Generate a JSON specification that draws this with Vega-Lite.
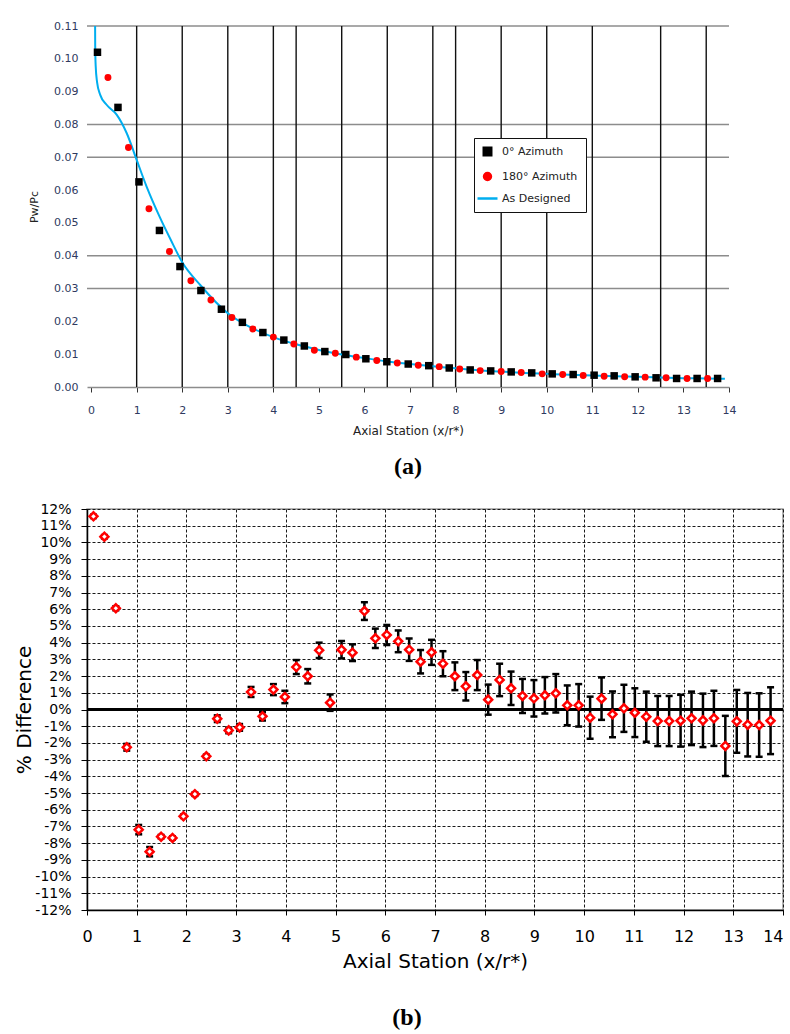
{
  "$schema": "https://vega.github.io/schema/vega-lite/v6.json",
  "padding": {"left": 14, "top": 20, "right": 0, "bottom": 0},
  "background": "white",
  "spacing": 22,
  "config": {"view": {"stroke": null}, "font": "DejaVu Sans", "axis": {"labelOverlap": false, "labelBound": false, "labelFlush": false}},
  "vconcat": [
    {
      "width": 642,
      "height": 361,
      "view": {"stroke": null},
      "title": {"text": "(a)", "orient": "bottom", "font": "Liberation Serif", "fontSize": 24, "fontWeight": "bold", "color": "black", "offset": 19, "anchor": "middle"},
      "resolve": {"scale": {"color": "shared"}},
      "layer": [
        {
          "data": {"values": [{"y": 0.03}, {"y": 0.04}, {"y": 0.07}, {"y": 0.08}, {"y": 0.11}]},
          "mark": {"type": "rule", "color": "#8c8c8c", "strokeWidth": 1.5},
          "encoding": {
            "y": {"field": "y", "type": "quantitative", "scale": {"domain": [0, 0.11], "nice": false, "zero": false},
              "axis": {"values": [0, 0.01, 0.02, 0.03, 0.04, 0.05, 0.06, 0.07, 0.08, 0.09, 0.1, 0.11], "format": ".2f", "labelOverlap": false, "grid": false, "domain": false, "ticks": false, "labelFont": "DejaVu Sans", "labelFontSize": 11, "labelColor": "#2f3a5f", "labelPadding": 9, "title": "Pw/Pc", "titleFont": "DejaVu Sans", "titleFontSize": 11, "titleFontWeight": "normal", "titleColor": "#222", "titlePadding": 14}}
          }
        },
        {
          "data": {"values": [{"x": 1}, {"x": 2}, {"x": 3}, {"x": 4}, {"x": 4.5}, {"x": 5.5}, {"x": 6.5}, {"x": 7.5}, {"x": 8}, {"x": 9}, {"x": 10}, {"x": 11}, {"x": 12.5}, {"x": 13.5}]},
          "mark": {"type": "rule", "color": "#111", "strokeWidth": 1.4},
          "encoding": {
            "x": {"field": "x", "type": "quantitative", "scale": {"domain": [-0.09, 14], "nice": false, "zero": false},
              "axis": {"values": [0, 1, 2, 3, 4, 5, 6, 7, 8, 9, 10, 11, 12, 13, 14], "labelOverlap": false, "grid": false, "domain": true, "domainColor": "#8c8c8c", "domainWidth": 1.5, "ticks": true, "tickColor": "#333", "tickSize": 5, "labelFont": "DejaVu Sans", "labelFontSize": 11, "labelColor": "#2f3a5f", "labelPadding": 12, "title": "Axial Station (x/r*)", "titleFont": "DejaVu Sans", "titleFontSize": 12, "titleFontWeight": "normal", "titleColor": "#222", "titlePadding": 10}}
          }
        },
        {
          "data": {"values": [
            {"x": 0.088, "y": 0.11, "series": "As Designed"}, {"x": 0.09, "y": 0.104, "series": "As Designed"}, {"x": 0.1, "y": 0.098, "series": "As Designed"}, {"x": 0.13, "y": 0.093, "series": "As Designed"}, {"x": 0.2, "y": 0.089, "series": "As Designed"}, {"x": 0.34, "y": 0.086, "series": "As Designed"}, {"x": 0.56, "y": 0.083, "series": "As Designed"}, {"x": 0.78, "y": 0.0774, "series": "As Designed"}, {"x": 1.0, "y": 0.0692, "series": "As Designed"}, {"x": 1.22, "y": 0.061, "series": "As Designed"}, {"x": 1.5, "y": 0.052, "series": "As Designed"}, {"x": 1.75, "y": 0.0448, "series": "As Designed"}, {"x": 2.0, "y": 0.038, "series": "As Designed"}, {"x": 2.4, "y": 0.031, "series": "As Designed"}, {"x": 3.0, "y": 0.0225, "series": "As Designed"}, {"x": 3.5, "y": 0.0182, "series": "As Designed"}, {"x": 4.0, "y": 0.0152, "series": "As Designed"}, {"x": 4.5, "y": 0.013, "series": "As Designed"}, {"x": 5.0, "y": 0.0113, "series": "As Designed"}, {"x": 5.5, "y": 0.0099, "series": "As Designed"}, {"x": 6.0, "y": 0.0088, "series": "As Designed"}, {"x": 6.5, "y": 0.0078, "series": "As Designed"}, {"x": 7.0, "y": 0.007, "series": "As Designed"}, {"x": 7.5, "y": 0.0063, "series": "As Designed"}, {"x": 8.0, "y": 0.0057, "series": "As Designed"}, {"x": 8.5, "y": 0.0051, "series": "As Designed"}, {"x": 9.0, "y": 0.0047, "series": "As Designed"}, {"x": 9.5, "y": 0.0043, "series": "As Designed"}, {"x": 10.0, "y": 0.004, "series": "As Designed"}, {"x": 10.5, "y": 0.0037, "series": "As Designed"}, {"x": 11.0, "y": 0.0035, "series": "As Designed"}, {"x": 11.5, "y": 0.0033, "series": "As Designed"}, {"x": 12.0, "y": 0.0031, "series": "As Designed"}, {"x": 12.5, "y": 0.0029, "series": "As Designed"}, {"x": 13.0, "y": 0.0027, "series": "As Designed"}, {"x": 13.5, "y": 0.0026, "series": "As Designed"}, {"x": 13.91, "y": 0.0025, "series": "As Designed"}
          ]},
          "mark": {"type": "line", "strokeWidth": 2, "interpolate": "monotone"},
          "encoding": {
            "x": {"field": "x", "type": "quantitative", "scale": {"domain": [-0.09, 14], "nice": false, "zero": false},
              "axis": {"values": [0, 1, 2, 3, 4, 5, 6, 7, 8, 9, 10, 11, 12, 13, 14], "labelOverlap": false, "grid": false, "domain": true, "domainColor": "#8c8c8c", "domainWidth": 1.5, "ticks": true, "tickColor": "#333", "tickSize": 5, "labelFont": "DejaVu Sans", "labelFontSize": 11, "labelColor": "#2f3a5f", "labelPadding": 12, "title": "Axial Station (x/r*)", "titleFont": "DejaVu Sans", "titleFontSize": 12, "titleFontWeight": "normal", "titleColor": "#222", "titlePadding": 10}},
            "y": {"field": "y", "type": "quantitative", "scale": {"domain": [0, 0.11], "nice": false, "zero": false},
              "axis": {"values": [0, 0.01, 0.02, 0.03, 0.04, 0.05, 0.06, 0.07, 0.08, 0.09, 0.1, 0.11], "format": ".2f", "labelOverlap": false, "grid": false, "domain": false, "ticks": false, "labelFont": "DejaVu Sans", "labelFontSize": 11, "labelColor": "#2f3a5f", "labelPadding": 9, "title": "Pw/Pc", "titleFont": "DejaVu Sans", "titleFontSize": 11, "titleFontWeight": "normal", "titleColor": "#222", "titlePadding": 14}},
            "color": {"field": "series", "type": "nominal", "scale": {"domain": ["0° Azimuth", "180° Azimuth", "As Designed"], "range": ["#000000", "#ff0000", "#00aeef"]},
              "legend": {"orient": "none", "legendX": 387, "legendY": 112, "title": null, "fillColor": "white", "strokeColor": "#111", "padding": 8, "labelFont": "DejaVu Sans", "labelFontSize": 11, "labelColor": "#222", "rowPadding": 7, "symbolSize": 64, "labelOffset": 9,
                "encode": {"symbols": {"update": {
                  "shape": {"signal": "datum.value === 'As Designed' ? 'stroke' : (datum.value === '0° Azimuth' ? 'square' : 'circle')"},
                  "fill": {"signal": "datum.value === 'As Designed' ? 'transparent' : (datum.value === '0° Azimuth' ? '#000000' : '#ff0000')"},
                  "stroke": {"signal": "datum.value === 'As Designed' ? '#00aeef' : 'transparent'"},
                  "strokeWidth": {"value": 2.5},
                  "size": {"signal": "datum.value === 'As Designed' ? 400 : (datum.value === '0° Azimuth' ? 56 : 48)"},
                  "opacity": {"value": 1}
                }}}}}
          }
        },
        {
          "data": {"values": [
            {"x": 0.14, "y": 0.102, "series": "0° Azimuth"}, {"x": 0.59, "y": 0.0852, "series": "0° Azimuth"}, {"x": 1.05, "y": 0.0625, "series": "0° Azimuth"}, {"x": 1.5, "y": 0.0477, "series": "0° Azimuth"}, {"x": 1.95, "y": 0.0367, "series": "0° Azimuth"}, {"x": 2.41, "y": 0.0294, "series": "0° Azimuth"}, {"x": 2.86, "y": 0.0237, "series": "0° Azimuth"}, {"x": 3.32, "y": 0.0197, "series": "0° Azimuth"}, {"x": 3.77, "y": 0.0166, "series": "0° Azimuth"}, {"x": 4.23, "y": 0.0143, "series": "0° Azimuth"}, {"x": 4.68, "y": 0.0125, "series": "0° Azimuth"}, {"x": 5.13, "y": 0.0108, "series": "0° Azimuth"}, {"x": 5.59, "y": 0.0099, "series": "0° Azimuth"}, {"x": 6.03, "y": 0.0086, "series": "0° Azimuth"}, {"x": 6.49, "y": 0.0077, "series": "0° Azimuth"}, {"x": 6.96, "y": 0.007, "series": "0° Azimuth"}, {"x": 7.41, "y": 0.0065, "series": "0° Azimuth"}, {"x": 7.86, "y": 0.0058, "series": "0° Azimuth"}, {"x": 8.32, "y": 0.0052, "series": "0° Azimuth"}, {"x": 8.77, "y": 0.0049, "series": "0° Azimuth"}, {"x": 9.22, "y": 0.0046, "series": "0° Azimuth"}, {"x": 9.67, "y": 0.0043, "series": "0° Azimuth"}, {"x": 10.12, "y": 0.004, "series": "0° Azimuth"}, {"x": 10.58, "y": 0.0038, "series": "0° Azimuth"}, {"x": 11.04, "y": 0.0036, "series": "0° Azimuth"}, {"x": 11.48, "y": 0.0034, "series": "0° Azimuth"}, {"x": 11.94, "y": 0.0031, "series": "0° Azimuth"}, {"x": 12.4, "y": 0.0028, "series": "0° Azimuth"}, {"x": 12.85, "y": 0.0026, "series": "0° Azimuth"}, {"x": 13.3, "y": 0.0026, "series": "0° Azimuth"}, {"x": 13.75, "y": 0.0026, "series": "0° Azimuth"},
            {"x": 0.37, "y": 0.0943, "series": "180° Azimuth"}, {"x": 0.82, "y": 0.073, "series": "180° Azimuth"}, {"x": 1.27, "y": 0.0543, "series": "180° Azimuth"}, {"x": 1.72, "y": 0.0413, "series": "180° Azimuth"}, {"x": 2.19, "y": 0.0324, "series": "180° Azimuth"}, {"x": 2.63, "y": 0.0265, "series": "180° Azimuth"}, {"x": 3.09, "y": 0.0212, "series": "180° Azimuth"}, {"x": 3.55, "y": 0.0177, "series": "180° Azimuth"}, {"x": 4.0, "y": 0.0152, "series": "180° Azimuth"}, {"x": 4.45, "y": 0.0131, "series": "180° Azimuth"}, {"x": 4.9, "y": 0.0112, "series": "180° Azimuth"}, {"x": 5.36, "y": 0.0103, "series": "180° Azimuth"}, {"x": 5.82, "y": 0.0091, "series": "180° Azimuth"}, {"x": 6.27, "y": 0.0081, "series": "180° Azimuth"}, {"x": 6.72, "y": 0.0073, "series": "180° Azimuth"}, {"x": 7.18, "y": 0.0066, "series": "180° Azimuth"}, {"x": 7.64, "y": 0.0062, "series": "180° Azimuth"}, {"x": 8.09, "y": 0.0055, "series": "180° Azimuth"}, {"x": 8.54, "y": 0.005, "series": "180° Azimuth"}, {"x": 9.0, "y": 0.0047, "series": "180° Azimuth"}, {"x": 9.44, "y": 0.0044, "series": "180° Azimuth"}, {"x": 9.9, "y": 0.004, "series": "180° Azimuth"}, {"x": 10.35, "y": 0.0038, "series": "180° Azimuth"}, {"x": 10.8, "y": 0.0035, "series": "180° Azimuth"}, {"x": 11.26, "y": 0.0033, "series": "180° Azimuth"}, {"x": 11.71, "y": 0.0031, "series": "180° Azimuth"}, {"x": 12.16, "y": 0.003, "series": "180° Azimuth"}, {"x": 12.62, "y": 0.0028, "series": "180° Azimuth"}, {"x": 13.08, "y": 0.0026, "series": "180° Azimuth"}, {"x": 13.53, "y": 0.0026, "series": "180° Azimuth"}
          ]},
          "layer": [
            {
              "transform": [{"filter": "datum.series === '0° Azimuth'"}],
              "mark": {"type": "square", "size": 56, "opacity": 1},
              "encoding": {
                "x": {"field": "x", "type": "quantitative", "scale": {"domain": [-0.09, 14], "nice": false, "zero": false},
                  "axis": {"values": [0, 1, 2, 3, 4, 5, 6, 7, 8, 9, 10, 11, 12, 13, 14], "labelOverlap": false, "grid": false, "domain": true, "domainColor": "#8c8c8c", "domainWidth": 1.5, "ticks": true, "tickColor": "#333", "tickSize": 5, "labelFont": "DejaVu Sans", "labelFontSize": 11, "labelColor": "#2f3a5f", "labelPadding": 12, "title": "Axial Station (x/r*)", "titleFont": "DejaVu Sans", "titleFontSize": 12, "titleFontWeight": "normal", "titleColor": "#222", "titlePadding": 10}},
                "y": {"field": "y", "type": "quantitative", "scale": {"domain": [0, 0.11], "nice": false, "zero": false},
                  "axis": {"values": [0, 0.01, 0.02, 0.03, 0.04, 0.05, 0.06, 0.07, 0.08, 0.09, 0.1, 0.11], "format": ".2f", "labelOverlap": false, "grid": false, "domain": false, "ticks": false, "labelFont": "DejaVu Sans", "labelFontSize": 11, "labelColor": "#2f3a5f", "labelPadding": 9, "title": "Pw/Pc", "titleFont": "DejaVu Sans", "titleFontSize": 11, "titleFontWeight": "normal", "titleColor": "#222", "titlePadding": 14}},
                "color": {"field": "series", "type": "nominal"}
              }
            },
            {
              "transform": [{"filter": "datum.series === '180° Azimuth'"}],
              "mark": {"type": "circle", "size": 48, "opacity": 1},
              "encoding": {
                "x": {"field": "x", "type": "quantitative", "scale": {"domain": [-0.09, 14], "nice": false, "zero": false},
                  "axis": {"values": [0, 1, 2, 3, 4, 5, 6, 7, 8, 9, 10, 11, 12, 13, 14], "labelOverlap": false, "grid": false, "domain": true, "domainColor": "#8c8c8c", "domainWidth": 1.5, "ticks": true, "tickColor": "#333", "tickSize": 5, "labelFont": "DejaVu Sans", "labelFontSize": 11, "labelColor": "#2f3a5f", "labelPadding": 12, "title": "Axial Station (x/r*)", "titleFont": "DejaVu Sans", "titleFontSize": 12, "titleFontWeight": "normal", "titleColor": "#222", "titlePadding": 10}},
                "y": {"field": "y", "type": "quantitative", "scale": {"domain": [0, 0.11], "nice": false, "zero": false},
                  "axis": {"values": [0, 0.01, 0.02, 0.03, 0.04, 0.05, 0.06, 0.07, 0.08, 0.09, 0.1, 0.11], "format": ".2f", "labelOverlap": false, "grid": false, "domain": false, "ticks": false, "labelFont": "DejaVu Sans", "labelFontSize": 11, "labelColor": "#2f3a5f", "labelPadding": 9, "title": "Pw/Pc", "titleFont": "DejaVu Sans", "titleFontSize": 11, "titleFontWeight": "normal", "titleColor": "#222", "titlePadding": 14}},
                "color": {"field": "series", "type": "nominal"}
              }
            }
          ]
        }
      ]
    },
    {
      "width": 696,
      "height": 401,
      "view": {"stroke": "#9a9a9a", "strokeWidth": 1.5},
      "title": {"text": "(b)", "orient": "bottom", "font": "Liberation Serif", "fontSize": 24, "fontWeight": "bold", "color": "black", "offset": 35, "anchor": "middle", "dx": -28},
      "data": {"values": [
        {"x": 0.13, "y": 11.56, "lo": 11.46, "hi": 11.66}, {"x": 0.35, "y": 10.34, "lo": 10.24, "hi": 10.44}, {"x": 0.58, "y": 6.06, "lo": 5.94, "hi": 6.18}, {"x": 0.8, "y": -2.26, "lo": -2.46, "hi": -2.06}, {"x": 1.04, "y": -7.19, "lo": -7.47, "hi": -6.91}, {"x": 1.26, "y": -8.51, "lo": -8.79, "hi": -8.23}, {"x": 1.49, "y": -7.61, "lo": -7.71, "hi": -7.51}, {"x": 1.72, "y": -7.69, "lo": -7.79, "hi": -7.59}, {"x": 1.94, "y": -6.39, "lo": -6.49, "hi": -6.29}, {"x": 2.17, "y": -5.07, "lo": -5.17, "hi": -4.97}, {"x": 2.4, "y": -2.8, "lo": -2.9, "hi": -2.7}, {"x": 2.62, "y": -0.55, "lo": -0.75, "hi": -0.35}, {"x": 2.85, "y": -1.25, "lo": -1.42, "hi": -1.08}, {"x": 3.07, "y": -1.07, "lo": -1.27, "hi": -0.87}, {"x": 3.3, "y": 1.05, "lo": 0.75, "hi": 1.35}, {"x": 3.53, "y": -0.41, "lo": -0.66, "hi": -0.16}, {"x": 3.75, "y": 1.19, "lo": 0.86, "hi": 1.52}, {"x": 3.98, "y": 0.75, "lo": 0.38, "hi": 1.12}, {"x": 4.21, "y": 2.54, "lo": 2.12, "hi": 2.96}, {"x": 4.44, "y": 1.99, "lo": 1.56, "hi": 2.42}, {"x": 4.67, "y": 3.54, "lo": 3.08, "hi": 4.0}, {"x": 4.89, "y": 0.41, "lo": -0.08, "hi": 0.9}, {"x": 5.12, "y": 3.58, "lo": 3.06, "hi": 4.1}, {"x": 5.34, "y": 3.4, "lo": 2.9, "hi": 3.9}, {"x": 5.58, "y": 5.89, "lo": 5.36, "hi": 6.42}, {"x": 5.8, "y": 4.26, "lo": 3.68, "hi": 4.84}, {"x": 6.03, "y": 4.46, "lo": 3.86, "hi": 5.06}, {"x": 6.26, "y": 4.08, "lo": 3.43, "hi": 4.73}, {"x": 6.48, "y": 3.58, "lo": 2.91, "hi": 4.25}, {"x": 6.71, "y": 2.86, "lo": 2.16, "hi": 3.56}, {"x": 6.93, "y": 3.42, "lo": 2.67, "hi": 4.17}, {"x": 7.16, "y": 2.74, "lo": 1.99, "hi": 3.49}, {"x": 7.4, "y": 1.99, "lo": 1.16, "hi": 2.82}, {"x": 7.62, "y": 1.39, "lo": 0.54, "hi": 2.24}, {"x": 7.85, "y": 2.06, "lo": 1.16, "hi": 2.96}, {"x": 8.07, "y": 0.59, "lo": -0.31, "hi": 1.49}, {"x": 8.3, "y": 1.77, "lo": 0.8, "hi": 2.74}, {"x": 8.53, "y": 1.27, "lo": 0.27, "hi": 2.27}, {"x": 8.76, "y": 0.81, "lo": -0.21, "hi": 1.83}, {"x": 8.99, "y": 0.67, "lo": -0.42, "hi": 1.76}, {"x": 9.21, "y": 0.85, "lo": -0.24, "hi": 1.94}, {"x": 9.43, "y": 0.97, "lo": -0.18, "hi": 2.12}, {"x": 9.66, "y": 0.25, "lo": -0.94, "hi": 1.44}, {"x": 9.89, "y": 0.25, "lo": -1.02, "hi": 1.52}, {"x": 10.12, "y": -0.49, "lo": -1.75, "hi": 0.77}, {"x": 10.35, "y": 0.65, "lo": -0.62, "hi": 1.92}, {"x": 10.57, "y": -0.29, "lo": -1.66, "hi": 1.08}, {"x": 10.8, "y": 0.07, "lo": -1.34, "hi": 1.48}, {"x": 11.02, "y": -0.19, "lo": -1.65, "hi": 1.27}, {"x": 11.25, "y": -0.43, "lo": -1.93, "hi": 1.07}, {"x": 11.48, "y": -0.69, "lo": -2.19, "hi": 0.81}, {"x": 11.71, "y": -0.69, "lo": -2.19, "hi": 0.81}, {"x": 11.94, "y": -0.67, "lo": -2.22, "hi": 0.88}, {"x": 12.16, "y": -0.53, "lo": -2.13, "hi": 1.07}, {"x": 12.39, "y": -0.65, "lo": -2.25, "hi": 0.95}, {"x": 12.61, "y": -0.53, "lo": -2.18, "hi": 1.12}, {"x": 12.84, "y": -2.18, "lo": -3.98, "hi": -0.38}, {"x": 13.07, "y": -0.71, "lo": -2.59, "hi": 1.17}, {"x": 13.29, "y": -0.91, "lo": -2.81, "hi": 0.99}, {"x": 13.52, "y": -0.93, "lo": -2.83, "hi": 0.97}, {"x": 13.75, "y": -0.67, "lo": -2.67, "hi": 1.33}
      ]},
      "layer": [
        {
          "data": {"values": [{"y": 0}]},
          "mark": {"type": "rule", "color": "black", "strokeWidth": 3},
          "encoding": {
            "y": {"field": "y", "type": "quantitative", "scale": {"domain": [-12, 12], "nice": false, "zero": false},
              "axis": {"values": [-12, -11, -10, -9, -8, -7, -6, -5, -4, -3, -2, -1, 0, 1, 2, 3, 4, 5, 6, 7, 8, 9, 10, 11, 12], "labelExpr": "datum.value + '%'", "labelOverlap": false, "grid": true, "gridColor": "#1a1a1a", "gridDash": [3, 2], "gridWidth": 1, "domain": true, "domainColor": "black", "domainWidth": 1.5, "ticks": true, "tickColor": "black", "tickSize": 6, "labelFont": "DejaVu Sans", "labelFontSize": 14, "labelColor": "black", "labelPadding": 10, "title": "% Difference", "titleFont": "DejaVu Sans", "titleFontSize": 20, "titleFontWeight": "normal", "titleColor": "black", "titlePadding": 0}}
          }
        },
        {
          "mark": {"type": "rule", "color": "black", "strokeWidth": 2.5},
          "encoding": {
            "x": {"field": "x", "type": "quantitative", "scale": {"domain": [0, 14], "nice": false, "zero": false},
              "axis": {"values": [0, 1, 2, 3, 4, 5, 6, 7, 8, 9, 10, 11, 12, 13, 14], "labelAlign": {"expr": "datum.value === 14 ? 'right' : 'center'"}, "labelOverlap": false, "grid": true, "gridColor": "#1a1a1a", "gridDash": [3, 2], "gridWidth": 1, "domain": true, "domainColor": "black", "domainWidth": 1.5, "ticks": true, "tickColor": "black", "tickSize": 5, "labelFont": "DejaVu Sans", "labelFontSize": 16, "labelColor": "black", "labelPadding": 13, "title": "Axial Station (x/r*)", "titleFont": "DejaVu Sans", "titleFontSize": 20, "titleFontWeight": "normal", "titleColor": "black", "titlePadding": 7}},
            "y": {"field": "lo", "type": "quantitative", "scale": {"domain": [-12, 12], "nice": false, "zero": false},
              "axis": {"values": [-12, -11, -10, -9, -8, -7, -6, -5, -4, -3, -2, -1, 0, 1, 2, 3, 4, 5, 6, 7, 8, 9, 10, 11, 12], "labelExpr": "datum.value + '%'", "labelOverlap": false, "grid": true, "gridColor": "#1a1a1a", "gridDash": [3, 2], "gridWidth": 1, "domain": true, "domainColor": "black", "domainWidth": 1.5, "ticks": true, "tickColor": "black", "tickSize": 6, "labelFont": "DejaVu Sans", "labelFontSize": 14, "labelColor": "black", "labelPadding": 10, "title": "% Difference", "titleFont": "DejaVu Sans", "titleFontSize": 20, "titleFontWeight": "normal", "titleColor": "black", "titlePadding": 0}},
            "y2": {"field": "hi"}
          }
        },
        {
          "mark": {"type": "tick", "orient": "horizontal", "color": "black", "size": 7, "thickness": 2.5, "opacity": 1},
          "encoding": {
            "x": {"field": "x", "type": "quantitative", "scale": {"domain": [0, 14], "nice": false, "zero": false},
              "axis": {"values": [0, 1, 2, 3, 4, 5, 6, 7, 8, 9, 10, 11, 12, 13, 14], "labelAlign": {"expr": "datum.value === 14 ? 'right' : 'center'"}, "labelOverlap": false, "grid": true, "gridColor": "#1a1a1a", "gridDash": [3, 2], "gridWidth": 1, "domain": true, "domainColor": "black", "domainWidth": 1.5, "ticks": true, "tickColor": "black", "tickSize": 5, "labelFont": "DejaVu Sans", "labelFontSize": 16, "labelColor": "black", "labelPadding": 13, "title": "Axial Station (x/r*)", "titleFont": "DejaVu Sans", "titleFontSize": 20, "titleFontWeight": "normal", "titleColor": "black", "titlePadding": 7}},
            "y": {"field": "lo", "type": "quantitative", "scale": {"domain": [-12, 12], "nice": false, "zero": false},
              "axis": {"values": [-12, -11, -10, -9, -8, -7, -6, -5, -4, -3, -2, -1, 0, 1, 2, 3, 4, 5, 6, 7, 8, 9, 10, 11, 12], "labelExpr": "datum.value + '%'", "labelOverlap": false, "grid": true, "gridColor": "#1a1a1a", "gridDash": [3, 2], "gridWidth": 1, "domain": true, "domainColor": "black", "domainWidth": 1.5, "ticks": true, "tickColor": "black", "tickSize": 6, "labelFont": "DejaVu Sans", "labelFontSize": 14, "labelColor": "black", "labelPadding": 10, "title": "% Difference", "titleFont": "DejaVu Sans", "titleFontSize": 20, "titleFontWeight": "normal", "titleColor": "black", "titlePadding": 0}}
          }
        },
        {
          "mark": {"type": "tick", "orient": "horizontal", "color": "black", "size": 7, "thickness": 2.5, "opacity": 1},
          "encoding": {
            "x": {"field": "x", "type": "quantitative", "scale": {"domain": [0, 14], "nice": false, "zero": false},
              "axis": {"values": [0, 1, 2, 3, 4, 5, 6, 7, 8, 9, 10, 11, 12, 13, 14], "labelAlign": {"expr": "datum.value === 14 ? 'right' : 'center'"}, "labelOverlap": false, "grid": true, "gridColor": "#1a1a1a", "gridDash": [3, 2], "gridWidth": 1, "domain": true, "domainColor": "black", "domainWidth": 1.5, "ticks": true, "tickColor": "black", "tickSize": 5, "labelFont": "DejaVu Sans", "labelFontSize": 16, "labelColor": "black", "labelPadding": 13, "title": "Axial Station (x/r*)", "titleFont": "DejaVu Sans", "titleFontSize": 20, "titleFontWeight": "normal", "titleColor": "black", "titlePadding": 7}},
            "y": {"field": "hi", "type": "quantitative", "scale": {"domain": [-12, 12], "nice": false, "zero": false},
              "axis": {"values": [-12, -11, -10, -9, -8, -7, -6, -5, -4, -3, -2, -1, 0, 1, 2, 3, 4, 5, 6, 7, 8, 9, 10, 11, 12], "labelExpr": "datum.value + '%'", "labelOverlap": false, "grid": true, "gridColor": "#1a1a1a", "gridDash": [3, 2], "gridWidth": 1, "domain": true, "domainColor": "black", "domainWidth": 1.5, "ticks": true, "tickColor": "black", "tickSize": 6, "labelFont": "DejaVu Sans", "labelFontSize": 14, "labelColor": "black", "labelPadding": 10, "title": "% Difference", "titleFont": "DejaVu Sans", "titleFontSize": 20, "titleFontWeight": "normal", "titleColor": "black", "titlePadding": 0}}
          }
        },
        {
          "mark": {"type": "point", "shape": "diamond", "size": 64, "filled": true, "fill": "white", "stroke": "#ff0000", "strokeWidth": 2.5, "opacity": 1},
          "encoding": {
            "x": {"field": "x", "type": "quantitative", "scale": {"domain": [0, 14], "nice": false, "zero": false},
              "axis": {"values": [0, 1, 2, 3, 4, 5, 6, 7, 8, 9, 10, 11, 12, 13, 14], "labelAlign": {"expr": "datum.value === 14 ? 'right' : 'center'"}, "labelOverlap": false, "grid": true, "gridColor": "#1a1a1a", "gridDash": [3, 2], "gridWidth": 1, "domain": true, "domainColor": "black", "domainWidth": 1.5, "ticks": true, "tickColor": "black", "tickSize": 5, "labelFont": "DejaVu Sans", "labelFontSize": 16, "labelColor": "black", "labelPadding": 13, "title": "Axial Station (x/r*)", "titleFont": "DejaVu Sans", "titleFontSize": 20, "titleFontWeight": "normal", "titleColor": "black", "titlePadding": 7}},
            "y": {"field": "y", "type": "quantitative", "scale": {"domain": [-12, 12], "nice": false, "zero": false},
              "axis": {"values": [-12, -11, -10, -9, -8, -7, -6, -5, -4, -3, -2, -1, 0, 1, 2, 3, 4, 5, 6, 7, 8, 9, 10, 11, 12], "labelExpr": "datum.value + '%'", "labelOverlap": false, "grid": true, "gridColor": "#1a1a1a", "gridDash": [3, 2], "gridWidth": 1, "domain": true, "domainColor": "black", "domainWidth": 1.5, "ticks": true, "tickColor": "black", "tickSize": 6, "labelFont": "DejaVu Sans", "labelFontSize": 14, "labelColor": "black", "labelPadding": 10, "title": "% Difference", "titleFont": "DejaVu Sans", "titleFontSize": 20, "titleFontWeight": "normal", "titleColor": "black", "titlePadding": 0}}
          }
        }
      ]
    }
  ]
}
